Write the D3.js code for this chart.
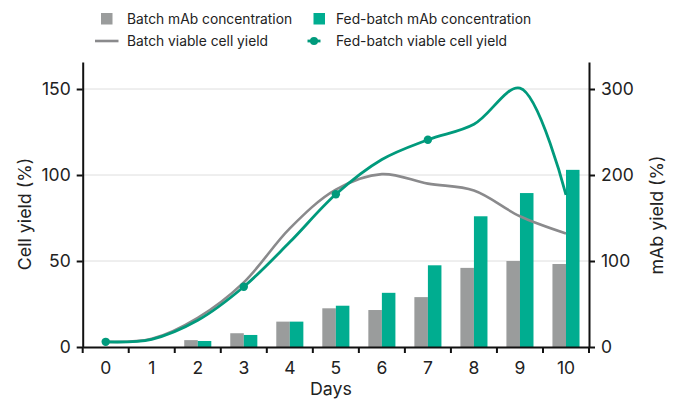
<!DOCTYPE html>
<html>
<head>
<meta charset="utf-8">
<script src="https://cdn.jsdelivr.net/npm/d3@7"></script>
<style>
  html, body { margin: 0; padding: 0; background: #fff; }
  svg { display: block; font-family: Inter, Roboto, sans-serif; }
</style>
</head>
<body>
<svg id="chart" width="675" height="403"></svg>
<script>
// ---- data ----
const days = [0, 1, 2, 3, 4, 5, 6, 7, 8, 9, 10];
const batchMab = [null, null, 8, 16, 29.5, 45, 43, 58, 92, 100, 96.5];
const fedMab = [null, null, 7, 14, 29.5, 48, 63, 95, 152, 179, 206];
const batchCell = [3, 4.8, 17, 37.6, 69, 91.5, 100.5, 95, 91, 76, 66];
const fedCell = [3, 4.5, 15.5, 35, 61, 88.8, 109, 120.5, 129.5, 150.5, 88.5];
const fedMarkerDays = [0, 3, 5, 7];
const leftTicks = [0, 50, 100, 150];
const rightTicks = [0, 100, 200, 300];
const legendLabels = ["Batch mAb concentration", "Fed-batch mAb concentration",
                      "Batch viable cell yield", "Fed-batch viable cell yield"];

(function () {
// ---- styling ----
const C = {
  barGray: "#9a9c9c", barGreen: "#00ad90",
  lineGray: "#8a8a8c", lineGreen: "#009a7c",
  grid: "#dedede", axis: "#111", text: "#222"
};
const FONT = "Inter, Roboto, sans-serif";

const svg = d3.select("#chart");
const pL = 82.7, pR = 589, pT = 62, pB = 347;

const x = d3.scaleBand().domain(days).range([pL, pR]).padding(0);
const yL = d3.scaleLinear().domain([0, 165.7]).range([pB, pT]);
const yR = d3.scaleLinear().domain([0, 331.4]).range([pB, pT]);
const xs = d3.scaleBand().domain(["batch", "fed"]).range([0, x.bandwidth()]).paddingInner(0).paddingOuter(0.7);

// gridlines
svg.append("g").selectAll("line").data(leftTicks.filter(d => d > 0)).join("line")
  .attr("x1", pL).attr("x2", pR)
  .attr("y1", d => yL(d)).attr("y2", d => yL(d))
  .attr("stroke", C.grid).attr("stroke-width", 1);

// bars
const barData = [];
days.forEach((d, i) => {
  if (batchMab[i] != null) barData.push({ day: d, k: "batch", v: batchMab[i] });
  if (fedMab[i] != null) barData.push({ day: d, k: "fed", v: fedMab[i] });
});
svg.append("g").selectAll("rect").data(barData).join("rect")
  .attr("x", d => x(d.day) + xs(d.k))
  .attr("width", xs.bandwidth())
  .attr("y", d => yR(d.v))
  .attr("height", d => yR(0) - yR(d.v))
  .attr("fill", d => d.k === "batch" ? C.barGray : C.barGreen);

// lines
const line = d3.line()
  .x((d, i) => x(days[i]) + x.bandwidth() / 2)
  .y(d => yL(d))
  .curve(d3.curveCatmullRom.alpha(0.5));

svg.append("path").datum(batchCell).attr("d", line)
  .attr("fill", "none").attr("stroke", C.lineGray).attr("stroke-width", 2.6);
svg.append("path").datum(fedCell).attr("d", line)
  .attr("fill", "none").attr("stroke", C.lineGreen).attr("stroke-width", 2.8);
svg.append("g").selectAll("circle").data(fedMarkerDays).join("circle")
  .attr("cx", d => x(d) + x.bandwidth() / 2)
  .attr("cy", d => yL(fedCell[days.indexOf(d)]))
  .attr("r", 4.2).attr("fill", C.lineGreen);

// axes
const fontTick = 17.5;
const gL = svg.append("g").attr("transform", `translate(${pL},0)`)
  .call(d3.axisLeft(yL).tickValues(leftTicks).tickSize(6).tickSizeOuter(0).tickPadding(6));
const gR = svg.append("g").attr("transform", `translate(${pR},0)`)
  .call(d3.axisRight(yR).tickValues(rightTicks).tickSize(6).tickSizeOuter(0).tickPadding(6));
const gB = svg.append("g").attr("transform", `translate(0,${pB})`)
  .call(d3.axisBottom(x).tickSize(0).tickSizeOuter(0).tickPadding(15));
// boundary ticks on the bottom axis
const bounds = days.map(d => x(d)).concat([x.range()[1]]);
svg.append("g").selectAll("line").data(bounds).join("line")
  .attr("x1", d => d).attr("x2", d => d)
  .attr("y1", pB).attr("y2", pB + 6)
  .attr("stroke", C.axis).attr("stroke-width", 2);

[gL, gR, gB].forEach(g => {
  g.select(".domain").attr("stroke", C.axis).attr("stroke-width", 2);
  g.selectAll(".tick line").attr("stroke", C.axis).attr("stroke-width", 2);
  g.selectAll(".tick text").attr("fill", C.text)
    .style("font-size", fontTick + "px").style("font-family", FONT);
});

// axis titles
svg.append("text").attr("transform", `translate(31,214) rotate(-90)`)
  .attr("text-anchor", "middle").attr("fill", C.text).style("font-size", "17.8px")
  .text("Cell yield (%)");
svg.append("text").attr("transform", `translate(663,215) rotate(-90)`)
  .attr("text-anchor", "middle").attr("fill", C.text).style("font-size", "17.8px")
  .text("mAb yield (%)");
svg.append("text").attr("x", 331).attr("y", 395)
  .attr("text-anchor", "middle").attr("fill", C.text).style("font-size", "17.8px")
  .text("Days");

// legend
const lg = svg.append("g").style("font-size", "13.8px").attr("fill", C.text);
lg.append("rect").attr("x", 101).attr("y", 13).attr("width", 11.5).attr("height", 11.5).attr("fill", C.barGray);
lg.append("rect").attr("x", 313.5).attr("y", 13).attr("width", 11.5).attr("height", 11.5).attr("fill", C.barGreen);
lg.append("line").attr("x1", 95).attr("x2", 118.5).attr("y1", 41).attr("y2", 41)
  .attr("stroke", C.lineGray).attr("stroke-width", 2.6);
lg.append("line").attr("x1", 307.5).attr("x2", 320.5).attr("y1", 41).attr("y2", 41)
  .attr("stroke", C.lineGreen).attr("stroke-width", 2.8);
lg.append("circle").attr("cx", 314).attr("cy", 41).attr("r", 4).attr("fill", C.lineGreen);
const lpos = [[127, 24], [336, 24], [127, 46], [336, 46]];
lg.selectAll("text").data(legendLabels).join("text")
  .attr("x", (d, i) => lpos[i][0]).attr("y", (d, i) => lpos[i][1])
  .attr("fill", C.text).text(d => d);
})();
</script>
</body>
</html>
